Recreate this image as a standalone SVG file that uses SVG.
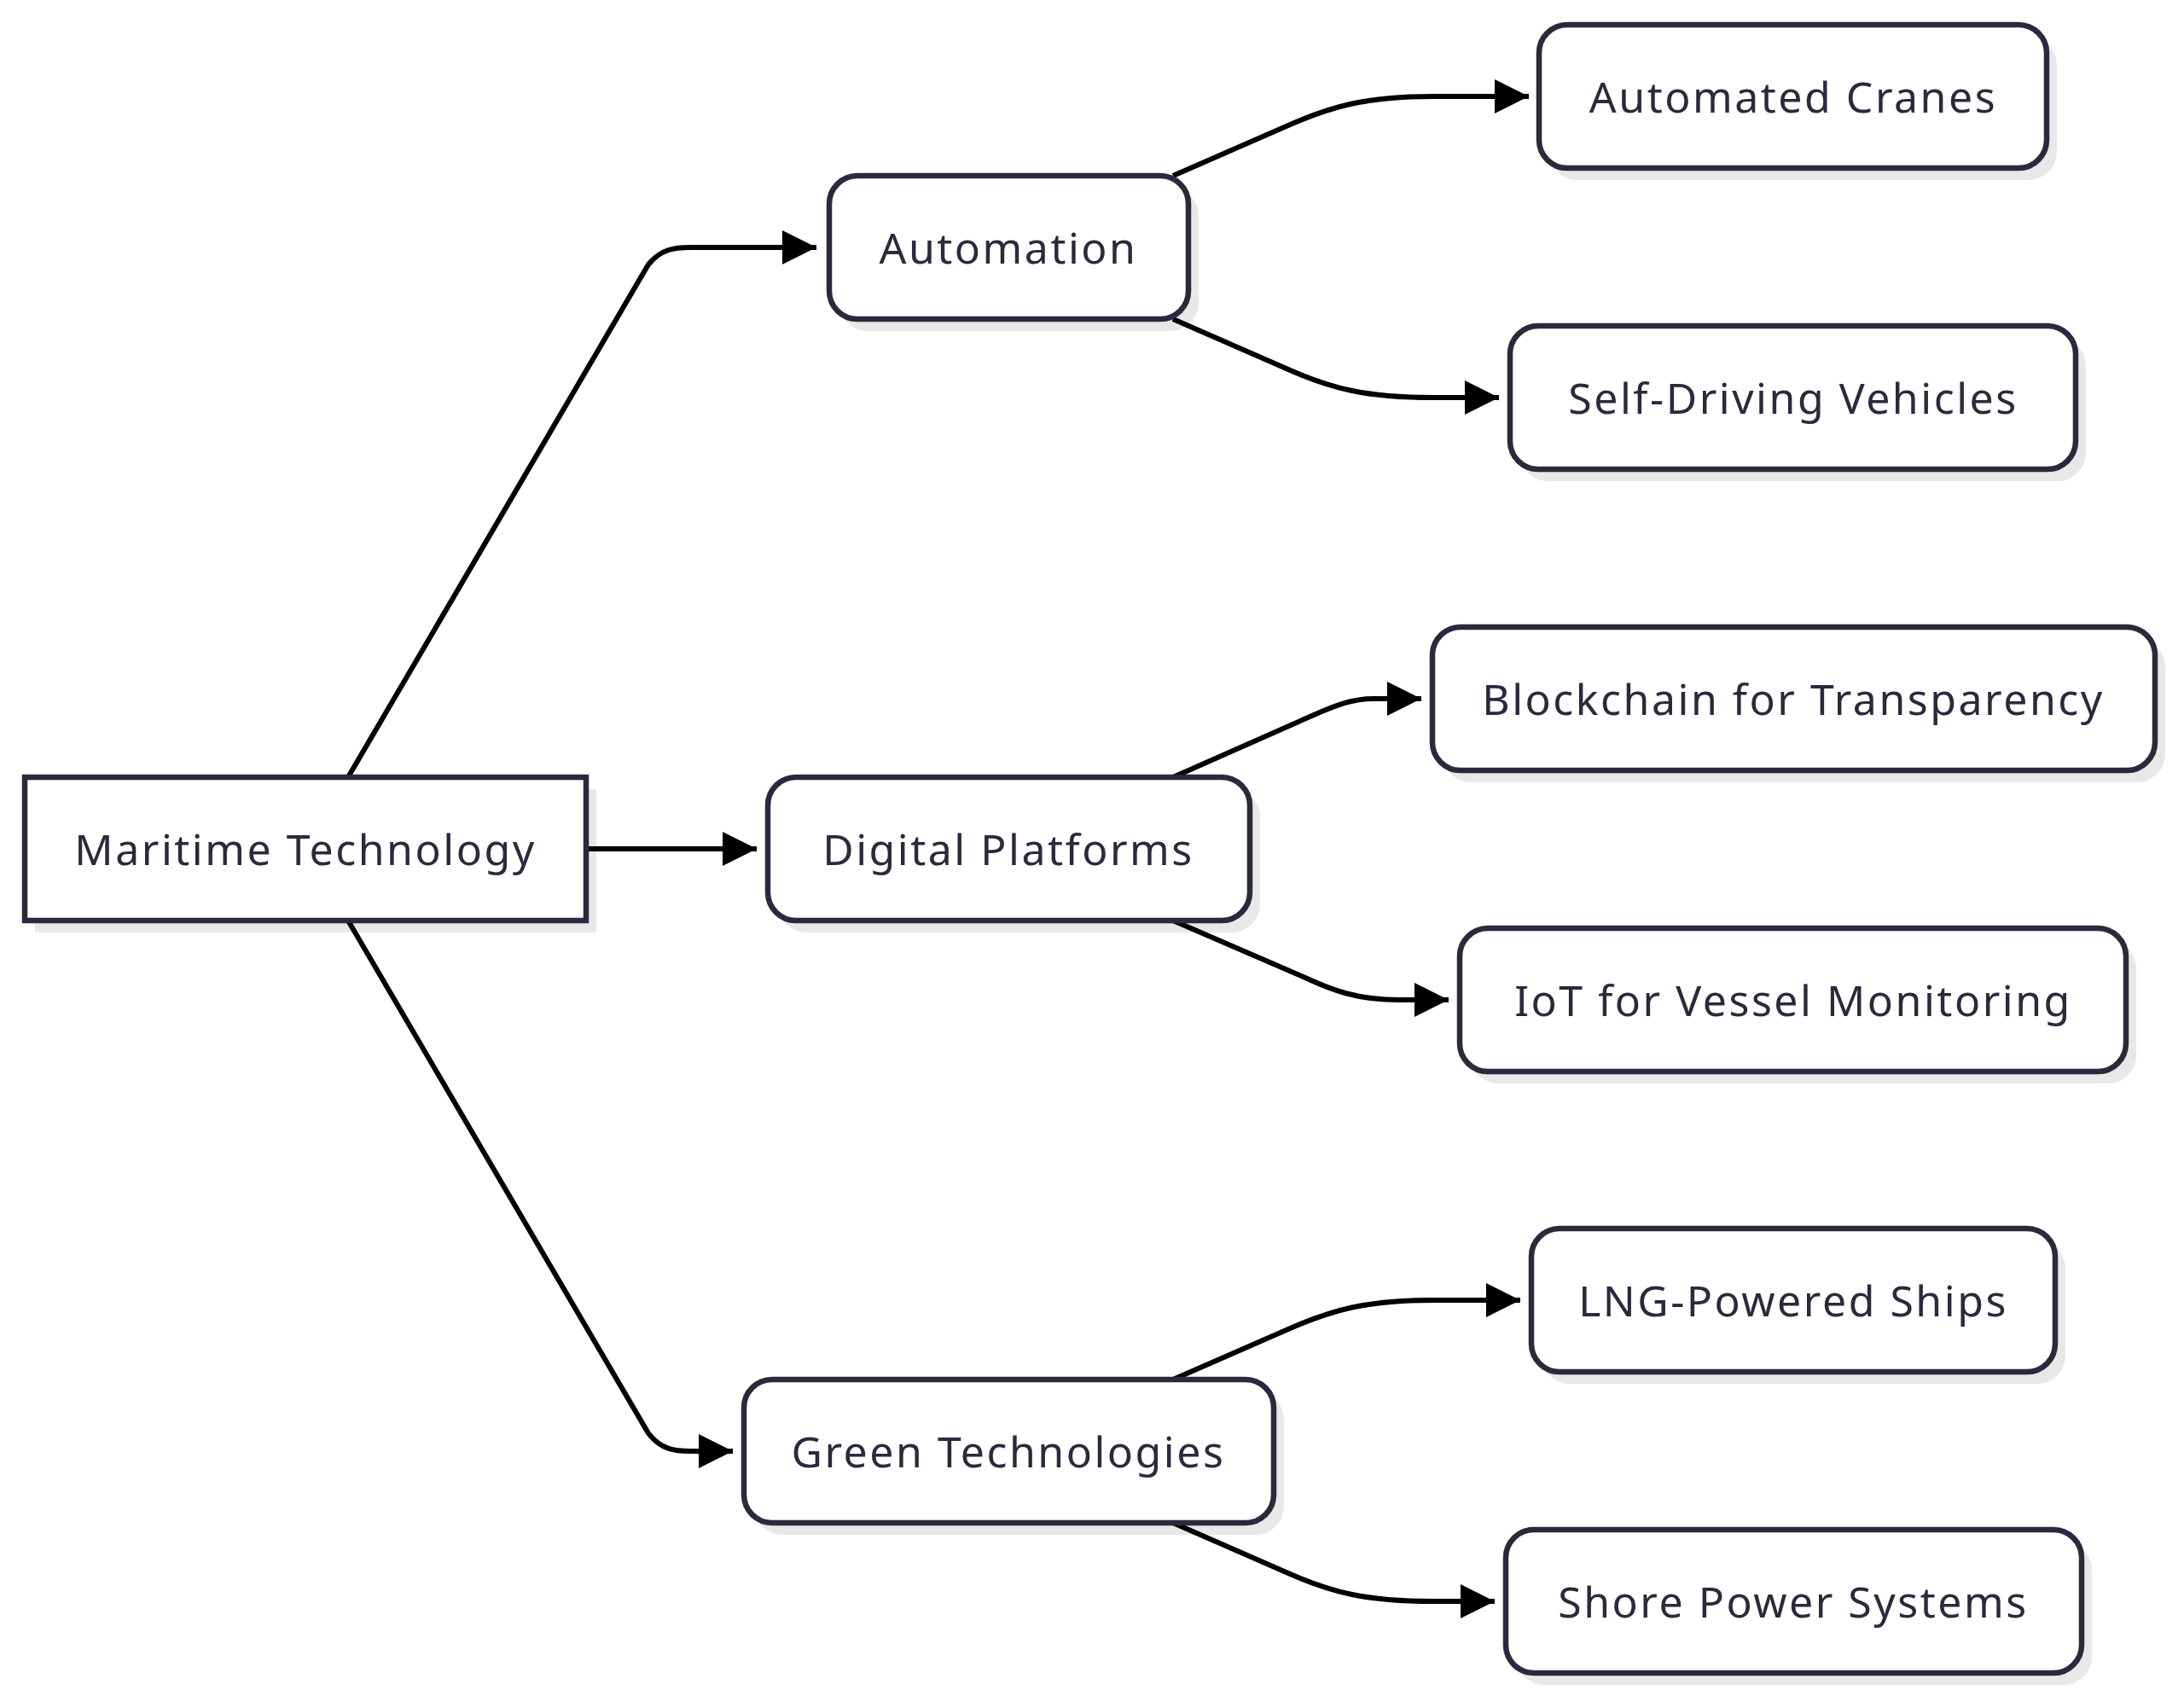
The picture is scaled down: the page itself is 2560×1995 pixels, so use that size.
<svg xmlns="http://www.w3.org/2000/svg" width="2560" height="1995" viewBox="0 0 2560 1995">
<style>
.n{fill:#fff;stroke:#2a2a3e;stroke-width:6.5}
.s{fill:#e8e8e8}
.t{font-family:"Noto Sans","Liberation Sans",sans-serif;font-size:50px;fill:#2a2a3e;text-anchor:middle;dominant-baseline:central;letter-spacing:2.5px}
.e{fill:none;stroke:#000;stroke-width:6;marker-end:url(#a)}
</style>
<defs><marker id="a" markerUnits="userSpaceOnUse" markerWidth="44" markerHeight="44" refX="40" refY="20" orient="auto"><path d="M0,0 L40,20 L0,40 Z" fill="#000"/></marker></defs>
<rect width="2560" height="1995" fill="#fff"/>
<g id="shadows">
<rect class="s" x="41" y="925" width="658" height="168"/>
<rect class="s" x="984" y="220" width="421" height="168" rx="33"/>
<rect class="s" x="912" y="925" width="565" height="168" rx="33"/>
<rect class="s" x="884" y="1631" width="621" height="168" rx="33"/>
<rect class="s" x="1816" y="43" width="595" height="168" rx="33"/>
<rect class="s" x="1782" y="396" width="663" height="168" rx="33"/>
<rect class="s" x="1691" y="749" width="847" height="168" rx="33"/>
<rect class="s" x="1723" y="1102" width="781" height="168" rx="33"/>
<rect class="s" x="1807" y="1454" width="614" height="168" rx="33"/>
<rect class="s" x="1777" y="1807" width="675" height="168" rx="33"/>
</g>
<g id="connectors">
<path class="e" d="M408,911 L760,310 C775,292 790,290 810,290 L957,290"/>
<path class="e" d="M687,995 L887,995"/>
<path class="e" d="M408,1079 L760,1680 C775,1699 790,1701 810,1701 L859,1701"/>
<path class="e" d="M1375,206 L1510,147 C1560,125 1600,113 1680,113 L1792,113"/>
<path class="e" d="M1375,374 L1510,433 C1560,455 1600,466 1680,466 L1757,466"/>
<path class="e" d="M1375,911 L1540,838 C1565,827 1585,819 1610,819 L1666,819"/>
<path class="e" d="M1375,1079 L1530,1146 C1560,1160 1590,1172 1640,1172 L1698,1172"/>
<path class="e" d="M1375,1617 L1510,1558 C1560,1536 1600,1524 1680,1524 L1782,1524"/>
<path class="e" d="M1375,1785 L1510,1844 C1560,1866 1600,1877 1680,1877 L1752,1877"/>
</g>
<g id="maritime"><rect class="n" x="29" y="911" width="658" height="168"/><text class="t" x="358" y="995">Maritime Technology</text></g>
<g id="automation"><rect class="n" x="972" y="206" width="421" height="168" rx="33"/><text class="t" x="1182" y="290">Automation</text></g>
<g id="digital"><rect class="n" x="900" y="911" width="565" height="168" rx="33"/><text class="t" x="1182" y="995">Digital Platforms</text></g>
<g id="green"><rect class="n" x="872" y="1617" width="621" height="168" rx="33"/><text class="t" x="1182" y="1701">Green Technologies</text></g>
<g id="cranes"><rect class="n" x="1804" y="29" width="595" height="168" rx="33"/><text class="t" x="2102" y="113">Automated Cranes</text></g>
<g id="selfdriving"><rect class="n" x="1770" y="382" width="663" height="168" rx="33"/><text class="t" x="2102" y="466">Self-Driving Vehicles</text></g>
<g id="blockchain"><rect class="n" x="1679" y="735" width="847" height="168" rx="33"/><text class="t" x="2102" y="819">Blockchain for Transparency</text></g>
<g id="iot"><rect class="n" x="1711" y="1088" width="781" height="168" rx="33"/><text class="t" x="2102" y="1172">IoT for Vessel Monitoring</text></g>
<g id="lng"><rect class="n" x="1795" y="1440" width="614" height="168" rx="33"/><text class="t" x="2102" y="1524">LNG-Powered Ships</text></g>
<g id="shore"><rect class="n" x="1765" y="1793" width="675" height="168" rx="33"/><text class="t" x="2102" y="1877">Shore Power Systems</text></g>
</svg>
